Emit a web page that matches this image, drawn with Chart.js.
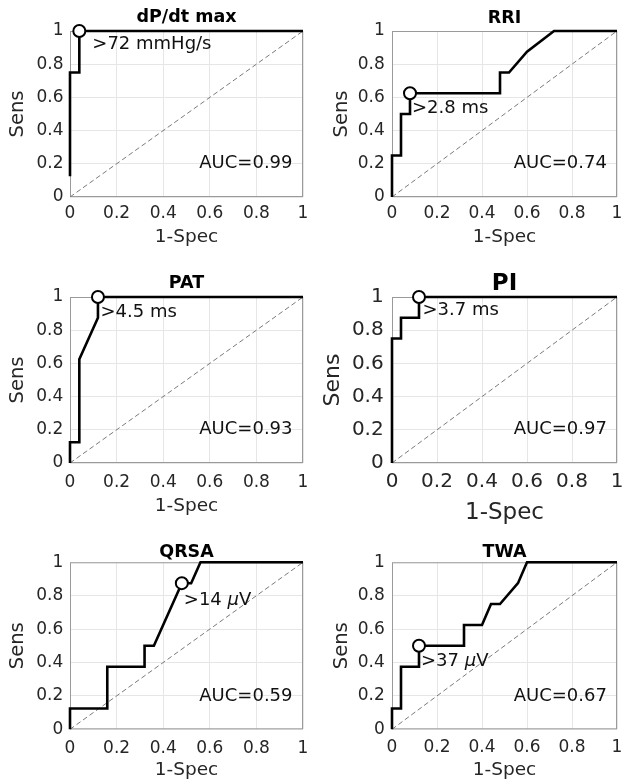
<!DOCTYPE html>
<html>
<head>
<meta charset="utf-8">
<script src="https://cdn.jsdelivr.net/npm/chart.js@4.4.0/dist/chart.umd.min.js"></script>
<style>
html, body { margin: 0; padding: 0; background: #fff; }
body { width: 625px; height: 781px; position: relative; overflow: hidden; }
canvas { position: absolute; }
</style>
</head>
<body>
<canvas id="c0"></canvas>
<canvas id="c1"></canvas>
<canvas id="c2"></canvas>
<canvas id="c3"></canvas>
<canvas id="c4"></canvas>
<canvas id="c5"></canvas>
<script>
// panel names, AUC and the chosen cut-off of each ROC curve
var titles = ['dP/dt max', 'RRI', 'PAT', 'PI', 'QRSA', 'TWA'];
var aucs = [0.99, 0.74, 0.93, 0.97, 0.59, 0.67];
var cutLabels = ['>72 mmHg/s', '>2.8 ms', '>4.5 ms', '>3.7 ms', '>14 μV', '>37 μV'];
var cutSpec = [0.04, 0.08, 0.12, 0.12, 0.48, 0.12];
var cutSens = [1, 0.625, 1, 1, 0.875, 0.5];

// ROC curves (1-Spec, Sens)
var specDpdt = [0, 0, 0.04, 0.04, 1];
var sensDpdt = [0.125, 0.75, 0.75, 1, 1];
var specRri = [0, 0, 0.04, 0.04, 0.08, 0.08, 0.48, 0.48, 0.52, 0.6, 0.72, 1];
var sensRri = [0, 0.25, 0.25, 0.5, 0.5, 0.625, 0.625, 0.75, 0.75, 0.875, 1, 1];
var specPat = [0, 0, 0.04, 0.04, 0.12, 0.12, 1];
var sensPat = [0, 0.125, 0.125, 0.625, 0.875, 1, 1];
var specPi = [0, 0, 0.04, 0.04, 0.12, 0.12, 1];
var sensPi = [0, 0.75, 0.75, 0.875, 0.875, 1, 1];
var specQrsa = [0, 0, 0.16, 0.16, 0.32, 0.32, 0.36, 0.48, 0.52, 0.56, 1];
var sensQrsa = [0, 0.125, 0.125, 0.375, 0.375, 0.5, 0.5, 0.875, 0.875, 1, 1];
var specTwa = [0, 0, 0.04, 0.04, 0.12, 0.12, 0.32, 0.32, 0.40, 0.44, 0.48, 0.56, 0.60, 1];
var sensTwa = [0, 0.125, 0.125, 0.375, 0.375, 0.5, 0.5, 0.625, 0.625, 0.75, 0.75, 0.875, 1, 1];

// chance line
var chanceX = [0, 1];
var chanceY = [0, 1];

var tickValues = [0, 0.2, 0.4, 0.6, 0.8, 1];
var tickLabels = ['0', '0.2', '0.4', '0.6', '0.8', '1'];

var specs = [specDpdt, specRri, specPat, specPi, specQrsa, specTwa];
var senss = [sensDpdt, sensRri, sensPat, sensPi, sensQrsa, sensTwa];

// where each subplot sits on the page
var layouts = [
	{left: 0, top: 0, w: 312, h: 255, yW: 70, padR: 9, titleArea: 31, titleC: 17.5, xH: 58, xTickC: 16.5, xTitleC: 18, yTickPad: 6.5, yTitleC: 18, tick: 17, labX: 18.5, labY: 19.5, ttl: 17.5, dx: 13, dy: 13},
	{left: 312, top: 0, w: 313, h: 255, yW: 80, padR: 0.7, titleArea: 31, titleC: 18.5, xH: 58, xTickC: 16.5, xTitleC: 18, yTickPad: 7.3, yTitleC: 29.5, tick: 17, labX: 18.5, labY: 19.5, ttl: 17.5, dx: 2, dy: 15},
	{left: 0, top: 262, w: 312, h: 268, yW: 70, padR: 9, titleArea: 35, titleC: 21.5, xH: 67, xTickC: 20, xTitleC: 24.3, yTickPad: 6.7, yTitleC: 18, tick: 17, labX: 18.5, labY: 19.5, ttl: 17.5, dx: 2.5, dy: 15},
	{left: 312, top: 262, w: 313, h: 268, yW: 80, padR: 0.7, titleArea: 35, titleC: 22.5, xH: 67, xTickC: 19, xTitleC: 16.5, yTickPad: 8.3, yTitleC: 21, tick: 20, labX: 23, labY: 22, ttl: 23, dx: 3.5, dy: 13},
	{left: 0, top: 530, w: 312, h: 251, yW: 70, padR: 9, titleArea: 32.3, titleC: 22, xH: 51.7, xTickC: 19.5, xTitleC: 11, yTickPad: 6.7, yTitleC: 18, tick: 17, labX: 18.5, labY: 19.5, ttl: 17.5, dx: 2, dy: 17},
	{left: 312, top: 530, w: 313, h: 251, yW: 80, padR: 0.7, titleArea: 32.3, titleC: 22, xH: 51.7, xTickC: 18, xTitleC: 11, yTickPad: 7.3, yTitleC: 29.5, tick: 17, labX: 18.5, labY: 19.5, ttl: 17.5, dx: 2, dy: 16}
];

var FONT = '"DejaVu Sans"';
Chart.defaults.font.family = FONT;
Chart.defaults.color = '#262626';

function points(xs, ys) {
	var out = [];
	for (var i = 0; i < xs.length; i++) {
		out.push({x: xs[i], y: ys[i]});
	}
	return out;
}

// text with an italic greek mu, like the TeX label in matlab
function drawLabel(ctx, text, x, y, size) {
	var parts = text.split('μ');
	var cx = x;
	ctx.textAlign = 'left';
	ctx.textBaseline = 'middle';
	for (var k = 0; k < parts.length; k++) {
		if (k > 0) {
			ctx.font = 'italic ' + size + 'px ' + FONT;
			ctx.fillText('μ', cx, y);
			cx += ctx.measureText('μ').width;
		}
		ctx.font = size + 'px ' + FONT;
		ctx.fillText(parts[k], cx, y);
		cx += ctx.measureText(parts[k]).width;
	}
}

function rocText(i, L) {
	return {
		id: 'rocText' + i,
		beforeDatasetsDraw: function(chart) {
			var a = chart.chartArea, ctx = chart.ctx;
			ctx.save();
			ctx.strokeStyle = '#9a9a9a';
			ctx.lineWidth = 1;
			ctx.strokeRect(a.left + 0.5, a.top + 0.5, a.right - a.left - 1, a.bottom - a.top - 1);
			ctx.restore();
		},
		afterDatasetsDraw: function(chart) {
			var ctx = chart.ctx;
			var xs = chart.scales.x, ys = chart.scales.y;
			ctx.save();
			ctx.fillStyle = '#111';
			drawLabel(ctx, cutLabels[i], xs.getPixelForValue(cutSpec[i]) + L.dx, ys.getPixelForValue(cutSens[i]) + L.dy, 18);
			ctx.font = '18px ' + FONT;
			ctx.textAlign = 'right';
			ctx.textBaseline = 'middle';
			ctx.fillText('AUC=' + aucs[i].toFixed(2), xs.getPixelForValue(0.955), ys.getPixelForValue(0.2));
			ctx.restore();
		}
	};
}

function makePanel(i) {
	var L = layouts[i];
	var cv = document.getElementById('c' + i);
	cv.width = L.w;
	cv.height = L.h;
	cv.style.left = L.left + 'px';
	cv.style.top = L.top + 'px';
	var ttlLH = L.ttl * 1.2, labXLH = L.labX * 1.2, labYLH = L.labY * 1.2, tickLH = L.tick * 1.2;
	var padTop = L.titleC - ttlLH / 2;

	new Chart(cv, {
		type: 'scatter',
		data: {
			datasets: [
				{
					data: points([cutSpec[i]], [cutSens[i]]),
					showLine: false,
					pointRadius: 6,
					pointBackgroundColor: '#fff',
					pointBorderColor: '#000',
					pointBorderWidth: 2,
					clip: false
				},
				{
					data: points(specs[i], senss[i]),
					showLine: true,
					borderColor: '#000',
					borderWidth: 2.6,
					pointRadius: 0,
					tension: 0,
					clip: false
				},
				{
					data: points(chanceX, chanceY),
					showLine: true,
					borderColor: '#7a7a7a',
					borderWidth: 1,
					borderDash: [5, 3],
					pointRadius: 0
				}
			]
		},
		options: {
			responsive: false,
			animation: false,
			devicePixelRatio: 1,
			layout: {padding: {left: 0, top: 0, right: L.padR, bottom: 0}},
			plugins: {
				legend: {display: false},
				tooltip: {enabled: false},
				title: {
					display: true,
					text: titles[i],
					fullSize: false,
					color: '#000',
					font: {size: L.ttl, weight: 'bold', lineHeight: 1.2},
					padding: {top: padTop, bottom: L.titleArea - ttlLH - padTop}
				}
			},
			scales: {
				x: {
					type: 'linear',
					min: 0,
					max: 1,
					afterBuildTicks: function(s) { s.ticks = tickValues.map(function(v) { return {value: v}; }); },
					afterFit: function(s) { s.height = L.xH; s.paddingLeft = 0; s.paddingRight = 0; },
					ticks: {
						autoSkip: false,
						maxRotation: 0,
						padding: L.xTickC - tickLH / 2,
						font: {size: L.tick},
						color: '#262626',
						callback: function(v, k) { return tickLabels[k]; }
					},
					grid: {color: '#e6e6e6', drawTicks: false},
					border: {display: false},
					title: {
						display: true,
						text: '1-Spec',
						color: '#262626',
						font: {size: L.labX},
						padding: {top: 0, bottom: L.xTitleC - labXLH / 2}
					}
				},
				y: {
					type: 'linear',
					min: 0,
					max: 1,
					afterBuildTicks: function(s) { s.ticks = tickValues.map(function(v) { return {value: v}; }); },
					afterFit: function(s) { s.width = L.yW; },
					ticks: {
						autoSkip: false,
						padding: L.yTickPad,
						font: {size: L.tick},
						color: '#262626',
						callback: function(v, k) { return tickLabels[k]; }
					},
					grid: {color: '#e6e6e6', drawTicks: false},
					border: {display: false},
					title: {
						display: true,
						text: 'Sens',
						color: '#262626',
						font: {size: L.labY},
						padding: {top: L.yTitleC - labYLH / 2, bottom: 0}
					}
				}
			}
		},
		plugins: [rocText(i, L)]
	});
}

for (var i = 0; i < 6; i++) {
	makePanel(i);
}
</script>
</body>
</html>
